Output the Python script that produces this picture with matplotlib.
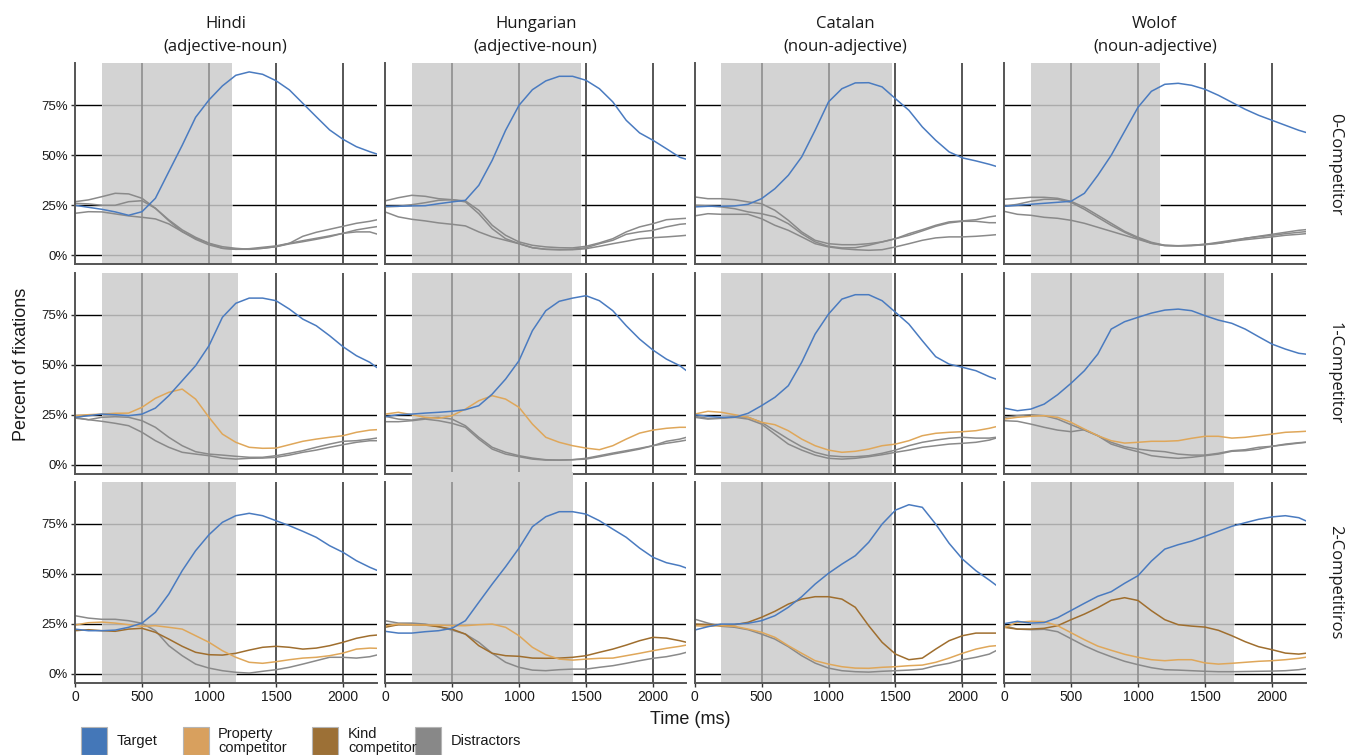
import matplotlib
matplotlib.use("Agg")
import matplotlib.pyplot as plt
from matplotlib.patches import Rectangle

plt.rcParams['font.family'] = ['Liberation Sans', 'DejaVu Sans']

# ---------------- data ----------------
time_ms = [0, 100, 200, 300, 400, 500, 600, 700, 800, 900, 1000, 1100,
           1200, 1300, 1400, 1500, 1600, 1700, 1800, 1900, 2000, 2100, 2200, 2250]

languages = ['Hindi', 'Hungarian', 'Catalan', 'Wolof']
word_orders = ['(adjective-noun)', '(adjective-noun)', '(noun-adjective)', '(noun-adjective)']
conditions = ['0-Competitor', '1-Competitor', '2-Competitiros']
y_ticks = [0, 0.25, 0.5, 0.75]
y_tick_labels = ['0%', '25%', '50%', '75%']
x_ticks = [0, 500, 1000, 1500, 2000]
legend_labels = ['Target', 'Property\ncompetitor', 'Kind\ncompetitor', 'Distractors']

shade_start = 200
shade_end_c0 = [1170, 1465, 1472, 1164]
shade_end_c1 = [1220, 1398, 1472, 1645]
shade_end_c2 = [1204, 1406, 1472, 1718]

# ---- 0-Competitor (values in %) ----
hindi_c0_target = [25, 24, 23, 21.7, 20, 21.8, 28.5, 41.8, 55, 69, 77.7, 84.7, 90, 91.7, 90.5, 87.3, 82.7, 76, 69.3, 62.7, 58, 54.3, 51.8, 50.7]
hindi_c0_distr_a = [26.8, 27.7, 29.3, 31, 30.7, 28.5, 23.5, 17.7, 12.7, 9, 6, 3.5, 3, 3, 3.5, 4.3, 6, 9.5, 11.5, 13, 14.5, 16, 17, 17.7]
hindi_c0_distr_b = [26, 25.7, 25, 25, 26.8, 27.3, 23.5, 17.3, 11.8, 8, 5.2, 3.5, 3, 3.3, 4, 4.7, 6, 7.3, 8.5, 9.7, 11, 11.7, 11.7, 10.7]
hindi_c0_distr_c = [21, 21.8, 21.7, 20.7, 19.7, 19, 18.2, 15.7, 11.8, 8.5, 6, 4.3, 3.5, 3, 3.5, 4.3, 5.7, 6.8, 8, 9.3, 11, 12.7, 13.8, 14.3]

hungarian_c0_target = [24.5, 24.5, 24.7, 24.8, 25.8, 26.7, 27.5, 35, 47.5, 62.5, 75, 82.8, 87.2, 89.5, 89.5, 87.5, 83.3, 76.7, 67.5, 61.2, 57.5, 53.3, 49, 48]
hungarian_c0_distr_a = [27.2, 28.8, 30, 29.5, 28.3, 27.8, 27.2, 22.5, 15, 10, 6.7, 5, 4.2, 3.8, 3.7, 4.5, 6.2, 8.3, 11.7, 14.2, 15.8, 17.8, 18.3, 18.5]
hungarian_c0_distr_b = [24.2, 24.5, 25.3, 26.3, 27.5, 27.8, 26.7, 20.8, 13.3, 8.3, 5.8, 3.8, 3, 2.8, 3, 3.8, 5.8, 7.5, 10.5, 11.7, 12.5, 14.2, 15.5, 15.8]
hungarian_c0_distr_c = [21.7, 19.2, 18, 17.2, 16.2, 15.5, 14.7, 11.7, 9.2, 7.5, 5.8, 3.8, 3, 2.8, 2.8, 3.3, 4.5, 5.8, 7, 8.3, 8.8, 9.2, 9.7, 10]

catalan_c0_target = [24.2, 24.5, 24.5, 24.7, 25.5, 28.3, 33.3, 40, 49.2, 62.5, 76.7, 83.3, 86.2, 86.3, 84.2, 78.3, 72.5, 64.2, 57.5, 51.7, 48.7, 47.2, 45.5, 44.5]
catalan_c0_distr_a = [29.2, 28.3, 28.3, 27.8, 26.7, 25.8, 22.5, 17.5, 11.7, 7.5, 5.8, 5.3, 5.3, 5.8, 6.7, 8.3, 10.8, 12.8, 15, 16.7, 17.2, 17.8, 19.2, 19.7]
catalan_c0_distr_b = [25, 24.7, 24.2, 23.3, 21.7, 20.8, 19.2, 15.8, 10.8, 6.7, 4.5, 3.7, 3.8, 5, 6.7, 8.3, 10, 12.2, 14.5, 16.2, 17, 17, 16.3, 16.3]
catalan_c0_distr_c = [19.7, 20.8, 20.5, 20.5, 20.5, 18.3, 15, 12.5, 9.2, 5.8, 4.2, 3.3, 2.8, 2.5, 2.8, 4.2, 5.8, 7.5, 8.7, 9.2, 9.2, 9.5, 10, 10.3]

wolof_c0_target = [24.5, 25, 25.5, 26, 26.5, 27, 31, 40, 50, 62, 74, 82, 85.5, 86, 85, 83, 80, 76.5, 73, 70, 67.5, 65, 62.5, 61.5]
wolof_c0_distr_a = [28, 28.5, 29, 29, 28.5, 27, 24, 20, 16, 12, 9, 6.5, 5, 4.8, 5, 5.5, 6, 7, 8.5, 9.5, 10.5, 11.5, 12.5, 12.8]
wolof_c0_distr_b = [24.5, 25.5, 27, 28, 28, 26.5, 23, 19, 15, 11.5, 8.5, 6, 4.8, 4.7, 5, 5.5, 6.5, 7.5, 8.5, 9.3, 10, 10.8, 11.5, 11.8]
wolof_c0_distr_c = [22, 20.5, 20, 19, 18.5, 17.5, 16, 14, 12, 10, 8, 6, 5, 4.7, 4.8, 5.3, 6, 7, 7.8, 8.5, 9.2, 10, 10.5, 10.8]

# ---- 1-Competitor ----
hindi_c1_target = [23.7, 24.5, 25.3, 25, 24.5, 25.3, 28.3, 34.5, 42, 49.5, 59.5, 73.7, 80.7, 83.3, 83.3, 82, 77.8, 72.8, 69.5, 64.5, 59, 54.5, 51.2, 48.7]
hindi_c1_property = [24.5, 25, 25.3, 25.7, 25.8, 28.7, 33.2, 36.2, 37.8, 32.8, 23.7, 15.3, 11.2, 8.7, 8.2, 8.3, 10, 11.7, 12.8, 13.7, 14.5, 16.2, 17.3, 17.5]
hindi_c1_distr_a = [23.7, 22.5, 23.7, 24, 23.7, 22, 18.7, 13.7, 9.5, 6.5, 5.3, 4.8, 4.2, 3.7, 3.7, 4.5, 5.7, 7, 8.7, 10.3, 11.7, 12, 12.8, 13.3]
hindi_c1_distr_b = [23.3, 22.5, 21.7, 20.7, 19.5, 16.2, 12, 8.7, 6.2, 5.3, 4.5, 3.3, 2.8, 3.2, 3.3, 3.7, 4.8, 6.2, 7.3, 8.7, 10, 11.2, 12, 12]

hungarian_c1_target = [24, 25, 25.3, 25.8, 26.2, 26.7, 27.5, 29.5, 35.3, 42.8, 52, 67, 77, 81.7, 83.3, 84.5, 82, 77, 69.5, 62.8, 57.3, 52.8, 49.5, 47]
hungarian_c1_property = [25.3, 26.2, 25, 23.7, 23.2, 24.5, 27.8, 32, 34.5, 32.8, 28.7, 20.3, 13.7, 11.2, 9.5, 8.3, 7.5, 9.5, 12.8, 15.8, 17.3, 18.2, 18.7, 18.7]
hungarian_c1_distr_a = [24.2, 22.8, 22.3, 23.3, 23.7, 22.8, 19.5, 13.7, 8.7, 6.2, 4.5, 3.3, 2.5, 2.3, 2.5, 2.8, 4, 5.3, 6.5, 7.8, 9.5, 11.7, 12.8, 13.7]
hungarian_c1_distr_b = [21.5, 21.5, 22, 22.8, 22, 20.7, 18.7, 12.8, 7.8, 5.3, 4, 2.8, 2.3, 2.3, 2.5, 3.2, 4.5, 5.8, 7, 8.2, 9.5, 10.7, 11.7, 12.3]

catalan_c1_target = [25, 24.2, 23.7, 23.7, 25.7, 29.5, 33.7, 39.5, 51.2, 65.3, 75.3, 82.8, 85, 85, 82, 76.2, 70.3, 62, 54, 50.3, 48.7, 47, 44, 42.8]
catalan_c1_property = [25.3, 26.7, 26.2, 25, 23.7, 21.2, 20, 17, 12.8, 9.5, 7.3, 6.2, 6.7, 7.8, 9.5, 10.3, 12, 14.5, 15.7, 16.2, 16.5, 17, 18.2, 19]
catalan_c1_distr_a = [24.2, 23.2, 23.2, 24.2, 23.7, 21.2, 17, 12.8, 9, 6.2, 4.5, 4, 4, 4.5, 5.7, 7.3, 9.5, 11.2, 12.3, 13.2, 13.7, 13.3, 13.3, 13.7]
catalan_c1_distr_b = [23.7, 22.8, 23.2, 23.7, 22.8, 20.3, 15.3, 10.3, 7.3, 4.8, 3.2, 2.8, 3.2, 4, 5, 6.2, 7.3, 8.7, 9.5, 10.3, 10.7, 11.2, 12.3, 13.3]

wolof_c1_target = [28.3, 27, 27.8, 30.3, 35, 40.7, 47, 55.3, 67.8, 71.5, 73.7, 75.8, 77.3, 77.8, 77, 74.5, 72.3, 70.7, 67.8, 64, 60.3, 57.8, 55.7, 55.3]
wolof_c1_property = [22.8, 23.7, 24.2, 24.5, 23.7, 21.2, 17.8, 14.5, 12, 10.8, 11.2, 11.7, 11.7, 12, 13.2, 14.2, 14.2, 13.3, 13.7, 14.5, 15.3, 16.2, 16.5, 16.7]
wolof_c1_distr_a = [23.7, 24.5, 25, 24.5, 22.8, 20, 17.3, 14.5, 11.2, 9, 7.8, 7, 6.5, 5.3, 4.8, 4.8, 5.7, 7, 7.5, 8.7, 9.2, 10, 10.8, 11.2]
wolof_c1_distr_b = [22, 21.7, 20.3, 18.7, 17.3, 16.5, 17.5, 14.5, 10.3, 8.2, 6.5, 4.5, 3.7, 3.2, 3.7, 4.5, 5.3, 6.7, 7, 7.8, 9.2, 10.3, 11, 11.2]

# ---- 2-Competitors ----
hindi_c2_target = [22.3, 21.5, 21.5, 21.8, 23.2, 25.3, 30.7, 39.8, 51.5, 61.5, 69.5, 75.7, 79, 80.2, 79, 76.5, 74, 71.2, 68.2, 64, 60.7, 56.5, 53.2, 51.8]
hindi_c2_property = [24.3, 25.5, 25.8, 25.3, 24.5, 23.7, 24, 23.2, 22.3, 19, 15.7, 11.5, 8.2, 5.7, 5.2, 6, 7, 7.8, 8.2, 9, 10.3, 12.3, 12.8, 12.7]
hindi_c2_kind = [21.5, 22, 21.5, 21.2, 22.3, 22.7, 20.7, 17.3, 13.7, 10.7, 9.5, 9.3, 10.2, 11.8, 13.2, 13.7, 13.2, 12.3, 12.8, 14, 15.7, 17.7, 19, 19.3]
hindi_c2_distr = [29, 27.8, 27.2, 27.2, 26.5, 25.2, 21.5, 14, 9, 4.8, 2.8, 1.5, 0.7, 0.3, 1.2, 2, 3.2, 4.8, 6.5, 8.2, 8.2, 7.8, 8.5, 9.3]

hungarian_c2_target = [21.2, 20.3, 20.3, 21, 21.5, 22.7, 26.5, 35.7, 44.8, 53.5, 62.8, 73.5, 78.5, 81, 81, 79.8, 76.5, 72.3, 68.2, 62.8, 58.2, 55.5, 54, 52.8]
hungarian_c2_property = [24, 24.8, 24.5, 24.3, 24.3, 24, 24, 24.5, 24.8, 23.2, 19, 13.2, 9.5, 7.3, 6.8, 7.3, 7.7, 7.8, 9, 10.2, 11.5, 12.7, 13.7, 14.3]
hungarian_c2_kind = [23.2, 24.5, 24.5, 24.3, 23.5, 22.3, 19.8, 14, 10.2, 9, 8.7, 7.8, 7.7, 7.8, 8.2, 9, 10.7, 12.3, 14.3, 16.5, 18.2, 17.8, 16.5, 15.7]
hungarian_c2_distr = [26.5, 25.3, 25.3, 24.8, 23.5, 21.8, 19.8, 15.7, 10.2, 5.7, 3.2, 1.8, 1.5, 2, 2.3, 2.3, 3.2, 4, 5.2, 6.5, 7.7, 8.5, 9.8, 10.7]

catalan_c2_target = [21.8, 23.5, 24.8, 24.8, 25.2, 26.5, 29, 33.2, 38.5, 44.8, 50.2, 54.8, 59, 65.7, 74.8, 81.8, 84.5, 83.2, 74.8, 65.2, 57.3, 51.5, 46.8, 44.3]
catalan_c2_property = [24, 23.7, 24, 23.7, 22.3, 20.7, 18.2, 14, 10.2, 6.5, 4.8, 3.5, 2.8, 2.7, 3.2, 3.5, 4, 4.3, 5.7, 7.8, 10.2, 12.3, 13.7, 14]
catalan_c2_kind = [24.8, 24.5, 24, 24.5, 25.7, 28.2, 31.2, 34.8, 37.3, 38.5, 38.5, 37.3, 33.2, 24, 15.7, 9.8, 7, 7.8, 12.3, 16.5, 19, 20.3, 20.3, 20.3]
catalan_c2_distr = [27.3, 25.3, 23.7, 23.2, 22, 19.8, 17.3, 13.5, 9, 5.3, 2.8, 1.5, 1, 0.8, 1.2, 1.5, 1.8, 2.3, 4, 5.2, 7, 8.2, 9.8, 11.5]

wolof_c2_target = [25, 26.2, 25.3, 25.6, 28, 31.6, 35.2, 38.7, 41, 45.2, 49, 56.3, 62.3, 64.5, 66.3, 68.7, 71.2, 73.7, 75.5, 77.2, 78.4, 79, 78, 76.5]
wolof_c2_property = [23, 25.7, 26.2, 26, 24, 20.5, 17, 13.8, 11.7, 9.7, 8.2, 7, 6.5, 7, 7, 5.4, 4.8, 5.2, 5.7, 6.2, 6.5, 7, 7.7, 8.2]
wolof_c2_kind = [23.2, 22.3, 22.3, 22.7, 24, 27, 29.8, 33, 36.7, 38, 36.6, 31.5, 27, 24.5, 23.8, 23.3, 21.7, 19, 16, 13.5, 12, 10.3, 9.8, 10.2]
wolof_c2_distr = [24, 22.3, 22, 22.2, 21, 17.5, 14, 11, 8.5, 6.2, 4.5, 3, 2, 1.8, 1.5, 1.2, 1, 1, 1.1, 1.2, 1.3, 1.5, 2, 2.5]

# ---------------- assemble ----------------
panels = {
    (0, 0): {'target': hindi_c0_target, 'distr': [hindi_c0_distr_a, hindi_c0_distr_b, hindi_c0_distr_c]},
    (0, 1): {'target': hungarian_c0_target, 'distr': [hungarian_c0_distr_a, hungarian_c0_distr_b, hungarian_c0_distr_c]},
    (0, 2): {'target': catalan_c0_target, 'distr': [catalan_c0_distr_a, catalan_c0_distr_b, catalan_c0_distr_c]},
    (0, 3): {'target': wolof_c0_target, 'distr': [wolof_c0_distr_a, wolof_c0_distr_b, wolof_c0_distr_c]},
    (1, 0): {'target': hindi_c1_target, 'property': hindi_c1_property, 'distr': [hindi_c1_distr_a, hindi_c1_distr_b]},
    (1, 1): {'target': hungarian_c1_target, 'property': hungarian_c1_property, 'distr': [hungarian_c1_distr_a, hungarian_c1_distr_b]},
    (1, 2): {'target': catalan_c1_target, 'property': catalan_c1_property, 'distr': [catalan_c1_distr_a, catalan_c1_distr_b]},
    (1, 3): {'target': wolof_c1_target, 'property': wolof_c1_property, 'distr': [wolof_c1_distr_a, wolof_c1_distr_b]},
    (2, 0): {'target': hindi_c2_target, 'property': hindi_c2_property, 'kind': hindi_c2_kind, 'distr': [hindi_c2_distr]},
    (2, 1): {'target': hungarian_c2_target, 'property': hungarian_c2_property, 'kind': hungarian_c2_kind, 'distr': [hungarian_c2_distr]},
    (2, 2): {'target': catalan_c2_target, 'property': catalan_c2_property, 'kind': catalan_c2_kind, 'distr': [catalan_c2_distr]},
    (2, 3): {'target': wolof_c2_target, 'property': wolof_c2_property, 'kind': wolof_c2_kind, 'distr': [wolof_c2_distr]},
}
shade_ends = [shade_end_c0, shade_end_c1, shade_end_c2]

col_target = '#4a7bc0'
col_property = '#dfa75a'
col_kind = '#9f6e2e'
col_distr = '#8a8a8a'
patch_colors = ['#4477b8', '#d8a05e', '#9c7036', '#888888']

# ---------------- layout ----------------
W, H = 1353, 755
fig = plt.figure(figsize=(W / 100, H / 100), dpi=100)

col_left = [75, 385, 694.5, 1004]
row_top = [63.3, 272.7, 481.7]
pw, ph = 301.5, 201
XMAX = 2250
YLIM = (-0.045, 0.96)


def pct(vals):
    return [v / 100.0 for v in vals]


axes = {}
for r in range(3):
    for c in range(4):
        ax = fig.add_axes([col_left[c] / W, 1 - (row_top[r] + ph) / H, pw / W, ph / H])
        axes[(r, c)] = ax
        s0, s1 = shade_start, shade_ends[r][c]
        ax.set_xlim(0, XMAX)
        ax.set_ylim(*YLIM)
        # shaded window
        ax.axvspan(s0, s1, color='#d3d3d3', lw=0, zorder=1)
        if (r, c) == (2, 1):
            ax.add_patch(Rectangle((s0, YLIM[1]), s1 - s0, 0.05, color='#d3d3d3', lw=0,
                                   zorder=1, clip_on=False))
        # horizontal grid
        ax.hlines(y_ticks, 0, s0, color='black', lw=1.0, zorder=0.5)
        ax.hlines(y_ticks, s0, s1, color='#ababab', lw=1.0, zorder=1.2)
        ax.hlines(y_ticks, s1, XMAX, color='black', lw=1.0, zorder=0.5)
        # vertical grid
        for xv in x_ticks[1:]:
            inside = s0 < xv < s1
            ax.axvline(xv, color='#8e8e8e' if inside else '#3a3a3a', lw=1.2, zorder=1.3)
        d = panels[(r, c)]
        for s in d['distr']:
            ax.plot(time_ms, pct(s), color=col_distr, lw=1.1, zorder=3)
        if 'kind' in d:
            ax.plot(time_ms, pct(d['kind']), color=col_kind, lw=1.1, zorder=3.2)
        if 'property' in d:
            ax.plot(time_ms, pct(d['property']), color=col_property, lw=1.1, zorder=3.3)
        ax.plot(time_ms, pct(d['target']), color=col_target, lw=1.1, zorder=3.5)

        for sp in ['top', 'right']:
            ax.spines[sp].set_visible(False)
        for sp in ['left', 'bottom']:
            ax.spines[sp].set_color('#555555')
            ax.spines[sp].set_linewidth(1.4)
            ax.spines[sp].set_zorder(4)
        ax.set_yticks(y_ticks)
        ax.set_xticks(x_ticks)
        if c == 0:
            ax.set_yticklabels(y_tick_labels, fontsize=9.5, color='#1a1a1a')
            ax.tick_params(axis='y', length=3, width=1, color='#333333', pad=2)
        else:
            ax.tick_params(axis='y', length=0, labelleft=False)
        if r == 2:
            ax.set_xticklabels([str(t) for t in x_ticks], fontsize=10, color='#1a1a1a')
            ax.tick_params(axis='x', length=3, width=1, color='#333333', pad=2)
        else:
            ax.tick_params(axis='x', length=0, labelbottom=False)

# column titles
for c in range(4):
    cx = (col_left[c] + pw / 2) / W
    fig.text(cx, 1 - 27.7 / H, languages[c], ha='center', va='baseline', fontsize=12,
             family=['Open Sans', 'DejaVu Sans'], color='#1a1a1a')
    fig.text(cx, 1 - 50.7 / H, word_orders[c], ha='center', va='baseline', fontsize=12,
             family=['Open Sans', 'DejaVu Sans'], color='#1a1a1a')

# row labels
for r in range(3):
    cy = 1 - (row_top[r] + ph / 2) / H
    fig.text(1335 / W, cy, conditions[r], rotation=270, ha='center', va='center', fontsize=12,
             family=['Open Sans', 'DejaVu Sans'], color='#1a1a1a')

fig.text(22 / W, 1 - 364 / H, 'Percent of fixations', rotation=90, ha='center', va='center',
         fontsize=13, color='#1a1a1a')
fig.text(690 / W, 1 - 720 / H, 'Time (ms)', ha='center', va='center', fontsize=13, color='#1a1a1a')

# legend
leg_x = [81, 183, 312, 415]
leg_text_x = [117, 218, 348, 451]
for i in range(4):
    fig.add_artist(Rectangle((leg_x[i] / W, 0), 26 / W, (H - 727) / H, transform=fig.transFigure,
                             facecolor=patch_colors[i], edgecolor='#b5b5b5', lw=0.8))
    fig.text(leg_text_x[i] / W, 1 - 741 / H, legend_labels[i], ha='left', va='center',
             fontsize=10.5, linespacing=1.0, color='#1a1a1a')

fig.savefig('out.png', dpi=100)
